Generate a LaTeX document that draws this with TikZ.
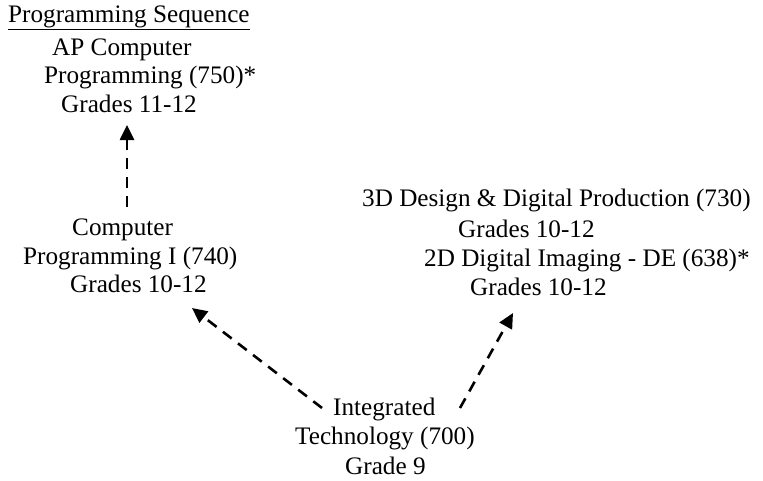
\documentclass[tikz,border=0pt]{standalone}
\usepackage{fontspec}
\setmainfont{Liberation Serif}
\usetikzlibrary{arrows.meta}
\tikzset{
  txt/.style={anchor=base west, inner sep=0pt, font=\fontsize{25.2}{30}\selectfont},
  seqarrow/.style={line width=2.6pt, dash pattern=on 11pt off 8pt, -{Triangle[length=15pt,width=14pt]}}
}
\begin{document}
\begin{tikzpicture}[x=1pt,y=-1pt]
\useasboundingbox (0,0) rectangle (763,480);
% top group
\node[txt] (ps) at (8,22) {\underline{Programming Sequence}};
\node[txt] (ap1) at (52,55) {AP Computer};
\node[txt] (ap2) at (44,83) {Programming (750)*};
\node[txt] (ap3) at (61,112) {Grades 11-12};
% left middle group
\node[txt] (cp1) at (72,235) {Computer};
\node[txt] (cp2) at (23,264) {Programming I (740)};
\node[txt] (cp3) at (70,292) {Grades 10-12};
% right group
\node[txt] (dd1) at (362,206) {3D Design \& Digital Production (730)};
\node[txt] (dd2) at (458,237) {Grades 10-12};
\node[txt] (di1) at (424,266) {2D Digital Imaging - DE (638)*};
\node[txt] (di2) at (470,295) {Grades 10-12};
% bottom group
\node[txt] (it1) at (333,415) {Integrated};
\node[txt] (it2) at (295,444) {Technology (700)};
\node[txt] (it3) at (345,474) {Grade 9};
% arrow end points
\coordinate (a1s) at (127,207);
\coordinate (a1e) at (127,125);
\coordinate (a2s) at (322,408);
\coordinate (a2e) at (192,308);
\coordinate (a3s) at (460,408);
\coordinate (a3e) at (513,313);
\draw[seqarrow] (a1s) -- (a1e);
\draw[seqarrow] (a2s) -- (a2e);
\draw[seqarrow] (a3s) -- (a3e);
\end{tikzpicture}
\end{document}
